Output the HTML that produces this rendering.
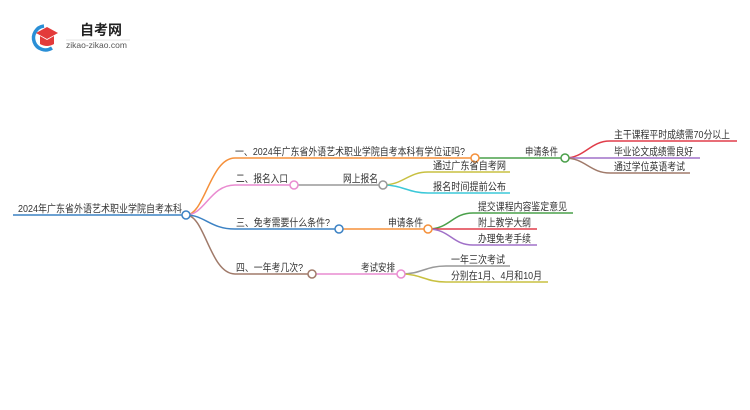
<!DOCTYPE html>
<html><head><meta charset="utf-8"><style>
html,body{margin:0;padding:0;background:#fff;}
svg{display:block;}
text{font-family:"Liberation Sans","Noto Sans CJK SC",sans-serif;font-size:10.5px;fill:#333;}
</style></head><body>
<svg width="750" height="410" viewBox="0 0 750 410" xmlns="http://www.w3.org/2000/svg">
<path d="M44 26 A12 12 0 1 0 52 48" fill="none" stroke="#2a8fd6" stroke-width="3.5"/>
<path d="M36 33 L47 27 L58 33 L47 39 Z" fill="#e33a3a"/>
<path d="M40 36 L40 44 Q47 48 54 44 L54 36 L47 40 Z" fill="#e33a3a"/>
<text x="80" y="35" style="font-size:14px;font-weight:bold;fill:#222">自考网</text>
<line x1="66" y1="40" x2="130" y2="40" stroke="#ddd" stroke-width="0.8"/>
<text x="66" y="48" style="font-size:8.5px;fill:#555">zikao-zikao.com</text>

<g fill="none" stroke-width="1.5">
<path d="M13 215 H186" stroke="#3c82c4"/>
<path d="M186 215 C205 215 210 158 235 158 H475" stroke="#f5903a"/>
<path d="M186 215 C205 215 210 185 235 185 H294" stroke="#e98bd0"/>
<path d="M186 215 C205 215 210 229 235 229 H339" stroke="#3c82c4"/>
<path d="M186 215 C205 215 210 274 235 274 H312" stroke="#a07a6a"/>
<path d="M475 158 H565" stroke="#4aa04a"/>
<path d="M294 185 H383" stroke="#999"/>
<path d="M339 229 H428" stroke="#f5903a"/>
<path d="M312 274 H401" stroke="#e98bd0"/>
<path d="M565 158 C585 158 590 141 610 141 H737" stroke="#e03d4a"/>
<path d="M565 158 H700" stroke="#a070c8"/>
<path d="M565 158 C585 158 590 173 610 173 H690" stroke="#a07a6a"/>
<path d="M383 185 C403 185 408 172 428 172 H510" stroke="#c8c040"/>
<path d="M383 185 C403 185 408 193 428 193 H510" stroke="#3cc8d8"/>
<path d="M428 229 C450 229 452 213 473 213 H573" stroke="#4aa04a"/>
<path d="M428 229 H537" stroke="#e03d4a"/>
<path d="M428 229 C450 229 452 245 473 245 H537" stroke="#a070c8"/>
<path d="M401 274 C422 274 425 266 446 266 H510" stroke="#999"/>
<path d="M401 274 C422 274 425 282 446 282 H548" stroke="#c8c040"/>
</g>
<g fill="#fff" stroke-width="1.5">
<circle cx="186" cy="215" r="4" stroke="#3c82c4"/>
<circle cx="475" cy="158" r="4" stroke="#f5903a"/>
<circle cx="294" cy="185" r="4" stroke="#e98bd0"/>
<circle cx="339" cy="229" r="4" stroke="#3c82c4"/>
<circle cx="312" cy="274" r="4" stroke="#a07a6a"/>
<circle cx="565" cy="158" r="4" stroke="#4aa04a"/>
<circle cx="383" cy="185" r="4" stroke="#999"/>
<circle cx="428" cy="229" r="4" stroke="#f5903a"/>
<circle cx="401" cy="274" r="4" stroke="#e98bd0"/>
</g>
<g lengthAdjust="spacingAndGlyphs">
<text x="18" y="212" textLength="164" lengthAdjust="spacingAndGlyphs">2024年广东省外语艺术职业学院自考本科</text>
<text x="235" y="155" textLength="230" lengthAdjust="spacingAndGlyphs">一、2024年广东省外语艺术职业学院自考本科有学位证吗?</text>
<text x="236" y="182" textLength="52" lengthAdjust="spacingAndGlyphs">二、报名入口</text>
<text x="236" y="226" textLength="94" lengthAdjust="spacingAndGlyphs">三、免考需要什么条件?</text>
<text x="236" y="271" textLength="67" lengthAdjust="spacingAndGlyphs">四、一年考几次?</text>
<text x="525" y="155" textLength="33" lengthAdjust="spacingAndGlyphs">申请条件</text>
<text x="343" y="182" textLength="35" lengthAdjust="spacingAndGlyphs">网上报名</text>
<text x="388" y="226" textLength="35" lengthAdjust="spacingAndGlyphs">申请条件</text>
<text x="361" y="271" textLength="34" lengthAdjust="spacingAndGlyphs">考试安排</text>
<text x="614" y="138" textLength="116" lengthAdjust="spacingAndGlyphs">主干课程平时成绩需70分以上</text>
<text x="614" y="155" textLength="79" lengthAdjust="spacingAndGlyphs">毕业论文成绩需良好</text>
<text x="614" y="170" textLength="71" lengthAdjust="spacingAndGlyphs">通过学位英语考试</text>
<text x="433" y="169" textLength="73" lengthAdjust="spacingAndGlyphs">通过广东省自考网</text>
<text x="433" y="190" textLength="73" lengthAdjust="spacingAndGlyphs">报名时间提前公布</text>
<text x="478" y="210" textLength="89" lengthAdjust="spacingAndGlyphs">提交课程内容鉴定意见</text>
<text x="478" y="226" textLength="53" lengthAdjust="spacingAndGlyphs">附上教学大纲</text>
<text x="478" y="242" textLength="53" lengthAdjust="spacingAndGlyphs">办理免考手续</text>
<text x="451" y="263" textLength="54" lengthAdjust="spacingAndGlyphs">一年三次考试</text>
<text x="451" y="279" textLength="91" lengthAdjust="spacingAndGlyphs">分别在1月、4月和10月</text>
</g>
</svg>
</body></html>
